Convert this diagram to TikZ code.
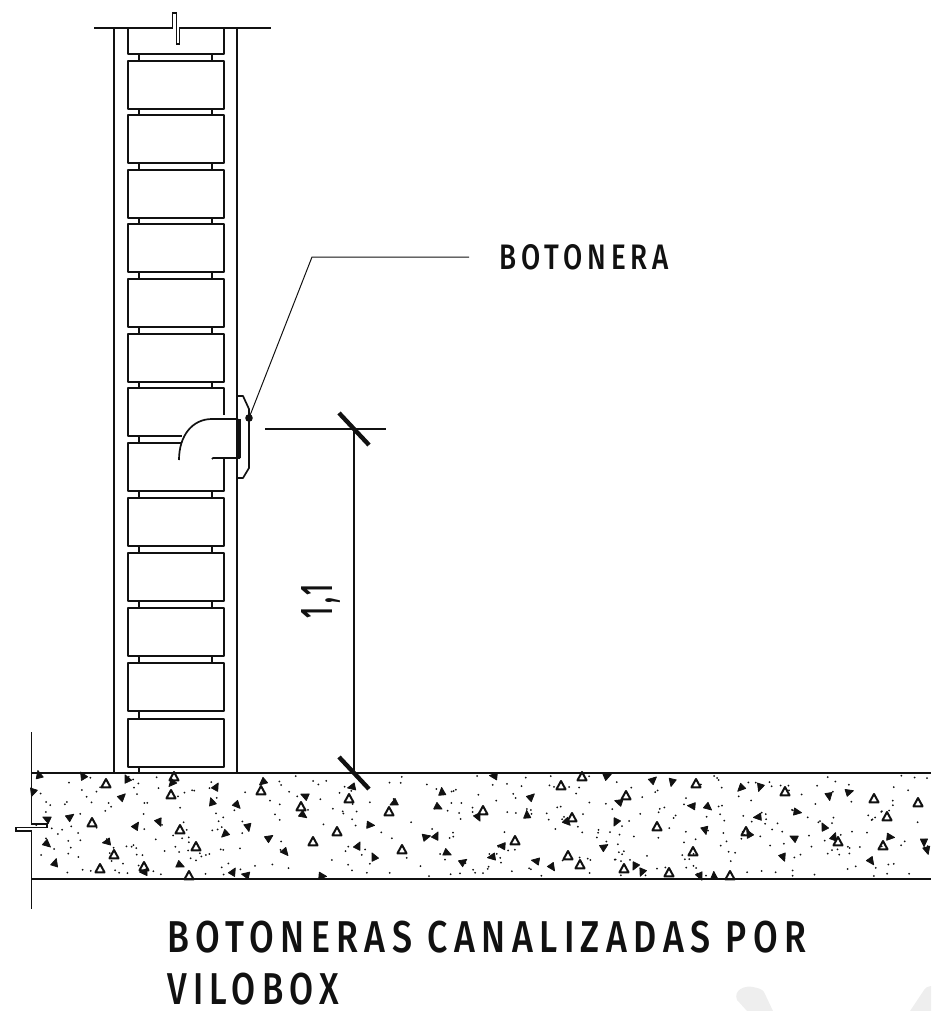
\documentclass[tikz,border=0pt]{standalone}
\usepackage{fontspec}
\setmainfont{Fira Sans Medium}[LetterSpace=18]
\usepackage{graphicx}
\definecolor{ink}{HTML}{111111}
\definecolor{markgray}{HTML}{EEEEEE}
\tikzset{
  wallline/.style={draw=ink,line width=1.8pt},
  brickline/.style={draw=ink,line width=1.5pt,line join=round},
  thinline/.style={draw=ink,line width=1pt},
  tickline/.style={draw=ink,line width=4.4pt},
  labeltext/.style={inner sep=0pt,anchor=south west,text=ink},
  solidtri/.style={fill=ink,draw=ink,line width=.8pt,line join=round},
  opentri/.style={draw=ink,line width=2pt,line join=round}
}
\newcommand{\fitbox}[3]{\resizebox{#1pt}{#2pt}{#3}}
\begin{document}
\begin{tikzpicture}[x=1pt,y=-1pt]
\useasboundingbox (0,0) rectangle (931,1011);
% faint marks
\fill[markgray] (747,1011) -- (737,1000) .. controls (733,990) and (745,985) .. (753,987) .. controls (758,988) and (762,989) .. (764,992) -- (773,1011) -- cycle;
\fill[markgray] (910,1011) -- (924,990) .. controls (926,987) and (929,986) .. (931,986) -- (931,1011) -- cycle;
% top line with break
\draw[wallline,line width=1.4pt] (94,28) -- (172.5,28) -- (172.5,13) -- (176.5,13) -- (176.5,44) -- (179.5,44) -- (179.5,28) -- (271,28);
% wall faces
\draw[wallline] (114,28) -- (114,773);
\draw[wallline] (237,28) -- (237,773);
% top cut brick
\draw[brickline] (128,28) -- (128,54) -- (224,54) -- (224,28);
% bricks
\foreach \t in {61,115,170,224,279,334,498,553,608,663,719}
  \draw[brickline] (128,\t) rectangle (224,\t+48);
% bricks cut by the conduit
\draw[brickline] (224,415) -- (224,388) -- (128,388) -- (128,436) -- (182,436);
\draw[brickline] (181,443) -- (128,443) -- (128,491) -- (224,491) -- (224,458);
% ties
\foreach \t in {54,109,163,218,272,327,382,491,546,601,656}{
  \draw[brickline] (139,\t) -- (139,\t+7);
  \draw[brickline] (212,\t) -- (212,\t+7);
}
\draw[brickline] (139,436) -- (139,443);
\draw[brickline] (139,711) -- (139,719);
\draw[brickline] (139,767) -- (139,773);
% conduit elbow
\draw[brickline,line width=1.7pt] (179,460) .. controls (179,436) and (192,419) .. (212,419) -- (238,419);
\draw[brickline,line width=1.7pt] (212,459) -- (213,458) -- (240,458);
\draw[draw=ink,line width=3pt] (239,419) -- (239,458);
% plate
\draw[brickline,line width=1.7pt] (237,396) -- (243,396) -- (249,409) -- (249,468) -- (243,478) -- (237,478);
\fill[ink] (249,418) circle (3.8) coordinate (dot);
% leader
\node[labeltext] (botonera) at (499,270) {\fitbox{170}{25}{BOTONERA}};
\coordinate (bend) at (312,257);
\coordinate (leaderend) at (469,257);
\draw[thinline] (dot) -- (bend) -- (leaderend);
% dimension
\coordinate (dimtop) at (354,429);
\coordinate (dimbot) at (354,773);
\draw[wallline] (dimtop) -- (dimbot);
\draw[wallline,line width=1.4pt] (265,429) -- (386,429);
\draw[tickline] (339,413) -- (369,445);
\draw[tickline] (339,757) -- (369,789);
\node[inner sep=0pt,anchor=base west,rotate=90,text=ink] (dimtext) at (332,619) {\fitbox{34}{31}{1,1}};
% floor
\draw[wallline,line width=1.5pt] (31,773) -- (931,773);
\draw[wallline,line width=1.5pt] (31,879) -- (931,879);
\draw[wallline,line width=1.2pt] (31.5,732) -- (31.5,824) -- (47,824) -- (47,827.6) -- (16,827.6) -- (16,831) -- (31.5,831) -- (31.5,909);
% aggregate: triangles
\pgfmathsetseed{4177}
\foreach \x/\y [count=\i] in {39/775,83/776,106/784,127/779,172/783,174/777,33/792,122/797,171/795,216/787,263/782,261/791,352/787,305/796,349/799,212/802,237/805,301/807,303/815,394/803,389/812,47/819,70/817,92/823,136/826,159/822,180/830,248/827,370/825,337/832,225/834,269/838,313/842,107/842,47/844,196/847,358/846,285/852,114/855,374/857,55/863,144/867,144/872,180/865,100/869,233/872,246/875,189/876,322/876,494/776,582/777,607/776,653/780,561/786,442/792,531/797,626/796,619/802,438/807,483/811,478/817,527/815,572/818,567/822,616/822,657/827,436/836,426/837,515/841,502/846,604/847,402/850,447/853,492/857,568/856,463/862,536/861,580/865,552/867,635/866,624/869,642/872,672/782,696/784,741/788,760/787,785/792,849/792,829/796,874/799,692/806,708/807,918/803,797/812,758/817,887/817,824/827,705/830,746/832,749/834,834/837,838/842,794/838,890/837,883/846,924/842,927/850,693/852,783/857,871/861,669/873,700/876,714/876,730/876}{
  \pgfmathtruncatemacro{\kind}{mod(\i,3)}
  \pgfmathtruncatemacro{\ang}{rnd*360}
  \ifnum\kind=0
    \draw[opentri] (\x,\y-5) -- (\x+4.6,\y+3.4) -- (\x-4.6,\y+3.4) -- cycle;
  \else
    \filldraw[solidtri,rotate around={\ang:(\x,\y)}] (\x,\y-4.6) -- (\x+3.6,\y+3) -- (\x-3.6,\y+3) -- cycle;
  \fi
}
% aggregate: dots
\foreach \i in {1,...,400}{
  \pgfmathsetmacro{\dx}{34+rnd*895}
  \pgfmathsetmacro{\dy}{775+rnd*102}
  \fill[ink] (\dx,\dy) circle (1);
}
% title
\node[labeltext] (titleone) at (167,953) {\fitbox{639}{31.5}{BOTONERAS CANALIZADAS POR}};
\node[labeltext] (titletwo) at (167,1005) {\fitbox{172}{31.5}{VILOBOX}};
\end{tikzpicture}
\end{document}
